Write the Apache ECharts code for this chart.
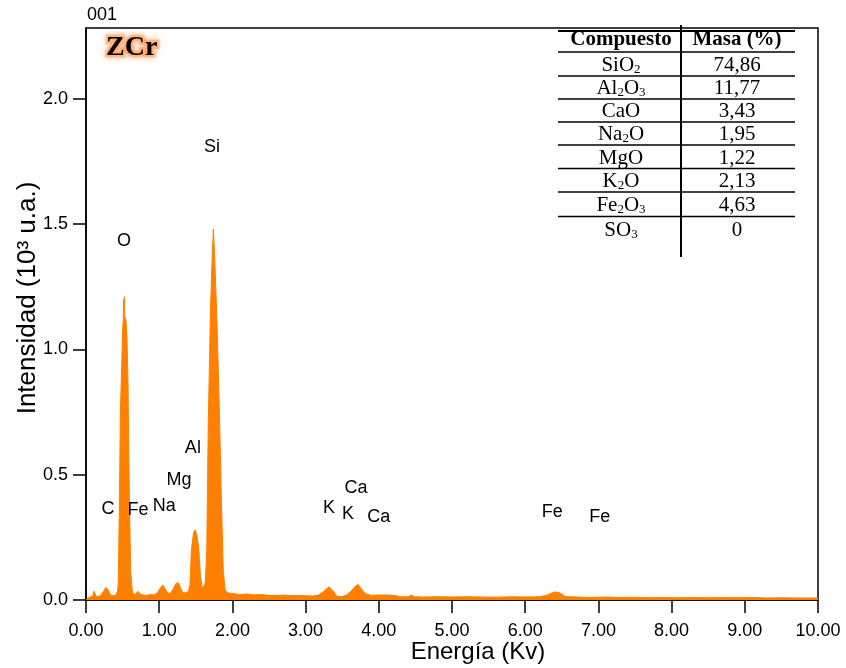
<!DOCTYPE html>
<html>
<head>
<meta charset="utf-8">
<script src="https://cdn.jsdelivr.net/npm/echarts@6/dist/echarts.min.js"></script>
<style>
html,body{margin:0;padding:0;background:#fff;}
#chart{width:846px;height:668px;}
</style>
</head>
<body>
<div id="chart"></div>
<script>
// ---- spectrum data (energy in keV, intensity in 10^3 a.u.) ----
var energy = [
  0.00,0.03,0.06,0.09,0.11,0.13,0.14,0.18,0.21,0.24,0.27,0.30,0.33,0.37,0.41,0.43,
  0.44,0.455,0.47,0.49,0.50,0.51,0.515,0.52,0.525,0.53,0.545,0.56,0.575,0.59,0.61,0.63,0.65,
  0.68,0.71,0.74,0.78,0.83,0.88,0.93,0.98,1.02,1.05,1.08,1.12,1.16,1.20,1.23,1.26,
  1.29,1.32,1.36,1.40,1.42,1.44,1.47,1.49,1.51,1.54,1.565,1.59,1.61,1.63,1.65,1.67,
  1.70,1.725,1.74,1.76,1.785,1.82,1.85,1.875,1.90,1.94,2.00,2.10,2.20,2.30,2.40,2.50,
  2.60,2.70,2.80,2.90,3.00,3.10,3.18,3.25,3.32,3.38,3.43,3.50,3.56,3.62,3.68,3.72,
  3.76,3.82,3.90,4.00,4.10,4.20,4.30,4.40,4.45,4.48,4.60,4.80,5.00,5.20,5.40,5.60,
  5.80,6.00,6.20,6.30,6.40,6.46,6.55,6.70,6.90,7.10,7.30,7.50,7.70,7.90,8.10,8.30,
  8.50,8.70,8.90,9.10,9.30,9.50,9.70,10.00
];
var intensity = [
  0.000,0.008,0.012,0.015,0.035,0.030,0.014,0.015,0.022,0.035,0.050,0.042,0.022,0.016,0.020,0.035,
  0.060,0.350,0.750,0.960,1.080,1.120,1.200,1.170,1.210,1.130,1.120,1.050,0.850,0.450,0.120,0.040,0.022,
  0.024,0.035,0.024,0.020,0.018,0.022,0.020,0.030,0.050,0.060,0.045,0.026,0.028,0.050,0.066,0.069,
  0.050,0.030,0.028,0.035,0.060,0.200,0.270,0.280,0.265,0.210,0.090,0.045,0.048,0.070,0.200,0.700,
  1.150,1.380,1.480,1.350,1.150,0.780,0.400,0.120,0.040,0.028,0.026,0.022,0.024,0.020,0.022,0.018,
  0.018,0.020,0.017,0.018,0.017,0.016,0.020,0.035,0.053,0.035,0.014,0.014,0.020,0.035,0.055,0.062,
  0.045,0.025,0.018,0.020,0.020,0.019,0.013,0.013,0.020,0.013,0.012,0.013,0.012,0.013,0.012,0.011,
  0.013,0.012,0.013,0.020,0.032,0.030,0.014,0.012,0.010,0.012,0.010,0.011,0.009,0.010,0.009,0.010,
  0.009,0.010,0.009,0.010,0.008,0.009,0.008,0.008
];

// ---- peak labels ----
var peakNames  = ['Si','O','Al','Mg','C','Fe','Na','K','Ca','K','Ca','Fe','Fe'];
var peakEnergy = [1.72,0.52,1.46,1.27,0.30,0.71,1.07,3.32,3.69,3.58,4.00,6.37,7.02];
var peakLevel  = [1.808,1.433,0.607,0.479,0.363,0.359,0.375,0.367,0.447,0.343,0.331,0.351,0.331];

// ---- axes ----
var yTicks = [0,0.5,1.0,1.5,2.0];

// ---- composition table ----
var compounds = ['SiO{s|2}','Al{s|2}O{s|3}','CaO','Na{s|2}O','MgO','K{s|2}O','Fe{s|2}O{s|3}','SO{s|3}'];
var masses    = ['74,86','11,77','3,43','1,95','1,22','2,13','4,63','0'];

var orange = '#FF8000';
var sans = 'Liberation Sans, Arial, sans-serif';
var serif = 'Liberation Serif, Times New Roman, serif';

var chart = echarts.init(document.getElementById('chart'), null, {renderer:'canvas'});

var lineData = energy.map(function(e,i){ return [e, intensity[i]]; });
var labelData = peakNames.map(function(n,i){ return {name:n, value:[peakEnergy[i], peakLevel[i]]}; });

// table graphics
var tX1 = 558, tX2 = 795, tColX = 681, c1 = 621, c2 = 737;
var rowY = [40, 65, 88, 111.5, 134.5, 158, 181.5, 205, 230];
var lineY = [52, 76, 99, 122, 145, 168.5, 192, 216.5];
var g = [];
g.push({type:'line', shape:{x1:tX1,y1:31,x2:tX2,y2:31}, style:{stroke:'#000', lineWidth:2}});
lineY.forEach(function(y){
  g.push({type:'line', shape:{x1:tX1,y1:y,x2:tX2,y2:y}, style:{stroke:'#000', lineWidth:1.5}});
});
g.push({type:'line', shape:{x1:tColX,y1:25,x2:tColX,y2:257}, style:{stroke:'#000', lineWidth:2}});
g.push({type:'text', x:c1, y:rowY[0], style:{text:'Compuesto', fontFamily:serif, fontSize:21, fontWeight:'bold', fill:'#000', align:'center', verticalAlign:'middle'}});
g.push({type:'text', x:c2, y:rowY[0], style:{text:'Masa (%)', fontFamily:serif, fontSize:21, fontWeight:'bold', fill:'#000', align:'center', verticalAlign:'middle'}});
compounds.forEach(function(c,i){
  var t = c.replace(/(^|})([^{}]+?)(?=\{|$)/g, function(m,a,b){ return a + '{n|' + b + '}'; });
  g.push({type:'text', x:c1, y:rowY[i+1], style:{
    text:t, align:'center', verticalAlign:'middle', fill:'#000',
    rich:{
      n:{fontFamily:serif, fontSize:21, lineHeight:22, verticalAlign:'middle', fill:'#000'},
      s:{fontFamily:serif, fontSize:13, lineHeight:13, verticalAlign:'bottom', fill:'#000'}
    }}});
  g.push({type:'text', x:c2, y:rowY[i+1], style:{text:masses[i], fontFamily:serif, fontSize:21, fill:'#000', align:'center', verticalAlign:'middle'}});
});

var option = {
  animation:false,
  backgroundColor:'#fff',
  title:[
    {text:'001', left:87, top:6, padding:0, textStyle:{fontFamily:sans, fontSize:18, fontWeight:'normal', color:'#000'}},
    {text:'ZCr', left:106, top:34, padding:0, textStyle:{fontFamily:serif, fontSize:28, fontWeight:'bold', color:'#000',
      textBorderColor:'rgba(255,150,80,0.5)', textBorderWidth:5, textShadowColor:'#FFA060', textShadowBlur:6}}
  ],
  grid:{left:86, right:28, top:28, bottom:68, outerBoundsMode:'none', containLabel:false,
        show:true, borderColor:'#000', borderWidth:1.5, backgroundColor:'transparent'},
  xAxis:{
    type:'value', min:0, max:10, interval:1,
    name:'Energía (Kv)', nameLocation:'middle', nameGap:40, nameMoveOverlap:false,
    nameTextStyle:{fontFamily:sans, fontSize:24, color:'#000', padding:[0,0,0,52]},
    axisLine:{show:true, onZero:false, lineStyle:{color:'#000', width:1.5}},
    axisTick:{show:true, inside:false, length:13, lineStyle:{color:'#000', width:1.5}},
    axisLabel:{fontFamily:sans, fontSize:18, color:'#000', margin:22, formatter:function(v){ return v.toFixed(2); }},
    splitLine:{show:false}
  },
  yAxis:{
    type:'value', min:0, max:2.283,
    name:'Intensidad (10³ u.a.)', nameLocation:'middle', nameGap:45, nameMoveOverlap:false,
    nameTextStyle:{fontFamily:sans, fontSize:26, color:'#000', padding:[0,0,0,32]},
    axisLine:{show:true, onZero:false, lineStyle:{color:'#000', width:1.5}},
    axisTick:{show:true, inside:false, length:13, customValues:yTicks, lineStyle:{color:'#000', width:1.5}},
    axisLabel:{fontFamily:sans, fontSize:18, color:'#000', margin:18, customValues:yTicks, formatter:function(v){ return v.toFixed(1); }},
    splitLine:{show:false}
  },
  series:[
    {type:'line', data:lineData, symbol:'none', smooth:false, silent:true,
     lineStyle:{color:orange, width:1}, areaStyle:{color:orange, opacity:1}, itemStyle:{color:orange}, z:1},
    {type:'scatter', data:labelData, symbolSize:0, silent:true, z:3, itemStyle:{color:'#000', opacity:1},
     label:{show:true, position:'inside', formatter:'{b}', fontFamily:sans, fontSize:18, color:'#000', opacity:1,
            textBorderWidth:0, textBorderColor:'transparent'}}
  ],
  graphic:g
};
chart.setOption(option);
</script>
</body>
</html>
